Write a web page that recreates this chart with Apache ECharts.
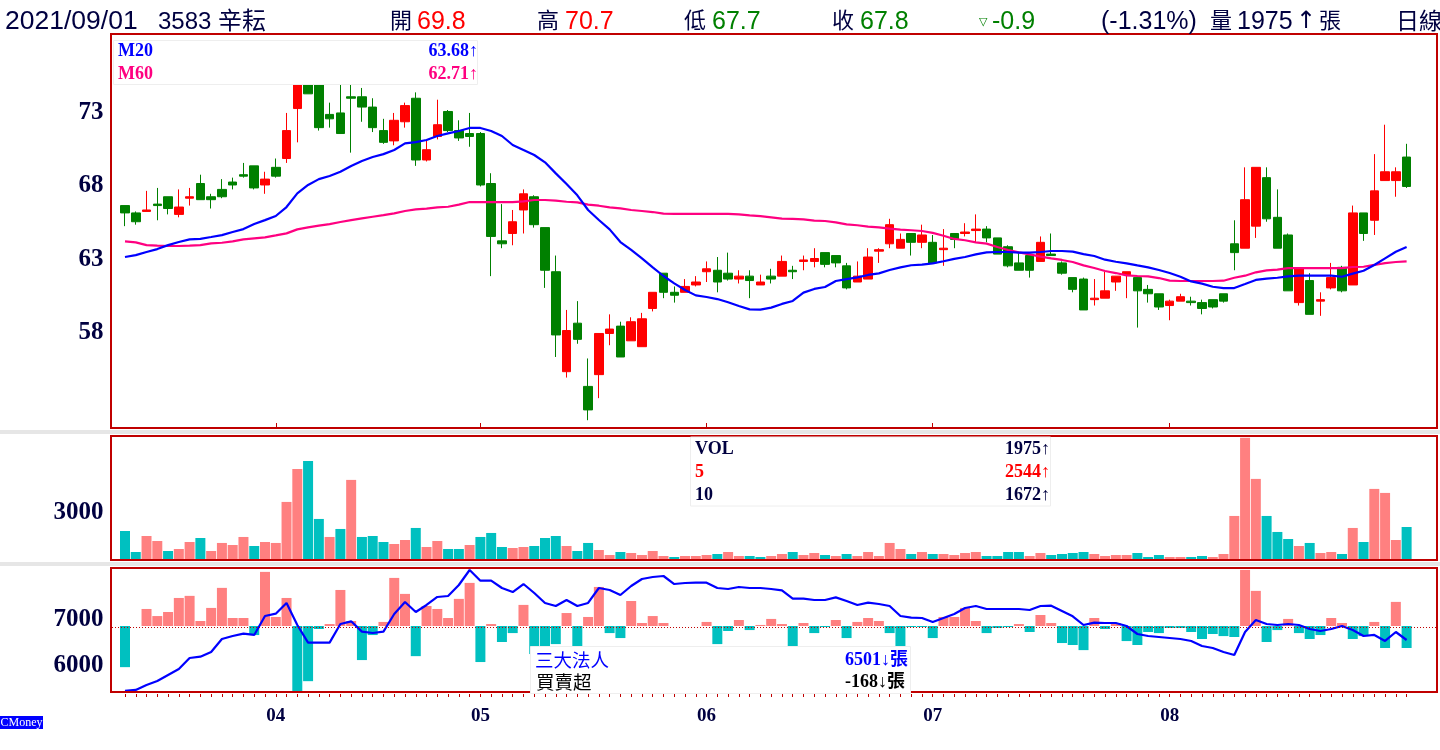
<!DOCTYPE html>
<html>
	<head>
		<meta charset="utf-8">
		<title>3583 辛耘</title>
		<script src="https://cdn.jsdelivr.net/npm/echarts@6/dist/echarts.min.js"></script>
		<style>
			html, body { margin: 0; padding: 0; background: #fff; }
		</style>
	</head>
	<body>
		<div id="main" style="width: 1440px; height: 750px;"></div>
		<script type="text/javascript">
			var opens = [66.5,66.0,66.1,66.6,67.1,65.9,67.0,68.0,67.1,67.6,68.1,68.6,69.2,67.9,69.1,69.7,73.1,75.6,75.2,72.7,
				72.8,73.9,73.9,73.2,71.6,70.9,72.2,73.8,69.6,71.2,72.9,71.6,71.4,71.4,68.0,64.1,64.6,66.2,67.1,65.0,
				62.0,55.2,58.5,54.2,55.0,57.8,58.3,57.3,56.9,59.5,61.9,60.6,60.6,61.1,62.0,62.1,61.9,61.5,61.7,61.1,
				61.7,61.7,62.1,62.7,62.7,63.3,63.1,62.4,61.3,61.5,63.4,63.9,63.6,64.6,64.0,64.0,63.5,64.6,64.6,64.8,
				64.9,64.3,63.7,62.6,63.1,62.7,63.2,62.6,61.6,61.5,60.1,60.2,61.3,61.8,61.6,60.8,60.5,59.7,60.0,60.0,
				59.9,60.1,60.5,63.9,63.6,65.1,68.4,65.7,64.5,59.9,61.4,60.0,60.9,62.3,61.1,66.0,65.5,68.2,68.2,69.8];
			var closes = [66.0,65.4,66.2,66.5,66.3,66.4,67.1,66.9,66.9,67.1,67.9,68.5,67.7,68.3,68.5,71.6,75.6,74.1,71.8,72.4,
				71.4,73.8,73.2,71.8,70.8,72.3,73.3,69.6,70.3,72.0,71.6,71.1,71.2,67.9,64.4,63.9,65.4,67.3,65.2,62.1,
				57.7,58.0,57.4,52.6,57.8,58.1,56.2,58.6,58.8,60.6,60.6,60.4,61.0,61.3,62.2,61.3,61.5,61.7,61.4,61.3,
				61.5,62.7,62.0,62.8,62.9,62.5,62.6,60.9,61.7,63.0,63.5,65.2,64.2,64.0,64.5,62.6,63.6,64.2,64.7,64.9,
				64.3,63.2,62.4,62.1,62.1,64.0,63.1,61.9,60.8,59.4,60.2,60.7,61.7,62.0,60.7,60.5,59.6,60.0,60.3,59.9,
				59.5,59.6,60.0,63.3,66.9,69.1,65.6,63.6,60.7,62.2,59.1,60.1,61.6,60.7,66.0,64.6,67.5,68.8,68.8,67.8];
			var lows = [65.1,65.2,66.1,65.5,65.9,65.7,66.5,66.9,66.3,67.0,67.6,68.4,67.6,67.3,68.4,69.4,70.8,74.1,71.6,71.8,
				71.4,70.1,72.2,71.5,70.7,70.6,71.8,69.2,69.5,71.0,71.5,70.9,70.5,67.8,61.7,63.6,63.8,64.6,65.0,60.9,
				56.2,54.8,57.1,51.9,53.4,57.0,56.2,57.3,56.9,59.3,60.2,59.9,60.6,61.0,61.3,60.6,61.4,61.2,60.2,61.1,
				61.2,61.7,61.5,62.1,62.3,62.3,62.3,60.8,61.3,61.5,62.6,63.6,63.6,63.1,63.6,62.6,62.4,63.6,64.4,64.0,
				64.0,63.2,62.3,62.1,61.6,62.7,63.1,61.8,60.6,59.4,59.7,60.2,60.7,60.2,58.2,59.9,59.4,58.7,60.0,59.7,
				59.1,59.5,59.9,62.1,63.6,64.3,65.4,63.6,60.7,59.7,59.1,59.0,60.8,60.6,61.1,64.1,64.5,68.2,67.1,67.7];
			var highs = [66.5,66.1,67.5,67.7,67.1,67.6,67.7,68.6,67.3,68.3,68.4,69.4,69.2,68.8,69.7,72.8,76.0,76.0,75.6,73.5,
				75.2,75.2,74.5,73.8,72.4,72.8,73.5,74.2,71.0,73.7,73.0,72.3,72.8,71.5,68.7,66.6,66.2,67.6,67.2,65.0,
				63.1,59.4,60.0,56.1,57.8,59.1,58.6,58.9,59.2,60.6,61.9,61.0,61.5,61.7,62.7,63.0,63.3,62.1,62.1,61.8,
				62.2,63.1,62.4,63.1,63.6,63.3,63.1,62.6,62.7,63.6,63.6,65.6,64.6,64.6,65.2,64.5,64.9,64.6,65.3,65.9,
				65.1,64.3,63.8,63.3,63.1,64.4,64.6,62.7,61.6,61.6,61.5,62.0,61.7,62.0,61.6,61.1,60.5,60.1,60.5,60.3,
				60.1,60.1,60.5,65.5,69.1,69.1,69.1,67.6,64.6,62.2,61.9,60.6,62.6,62.4,66.5,66.0,70.0,72.0,69.1,70.7];

			var m20 = [63.0,63.13,63.34,63.54,63.81,64.02,64.2,64.24,64.36,64.49,64.7,64.9,65.24,65.51,65.79,66.4,67.33,67.9,68.3,68.51,
				68.8,69.19,69.53,69.8,70.0,70.28,70.73,70.82,70.96,71.23,71.41,71.57,71.78,71.78,71.57,71.23,70.62,70.28,69.94,69.44,
				68.69,67.97,67.2,66.2,65.52,64.88,64.02,63.48,62.91,62.3,61.71,61.21,60.76,60.39,60.28,60.14,59.92,59.67,59.44,59.42,
				59.56,59.81,60.01,60.58,60.83,60.96,61.37,61.5,61.62,61.78,61.89,62.12,62.3,62.44,62.48,62.57,62.71,62.87,63.0,63.18,
				63.32,63.34,63.34,63.3,63.3,63.34,63.41,63.41,63.37,63.2,63.07,62.82,62.68,62.57,62.43,62.3,62.12,61.91,61.66,61.34,
				61.19,60.98,60.89,60.89,61.16,61.44,61.53,61.59,61.68,61.73,61.73,61.73,61.73,61.66,61.87,62.07,62.46,62.91,63.36,63.68];
			var m60 = [64.06,64.0,63.81,63.77,63.75,63.75,63.77,63.81,63.93,63.97,64.06,64.2,64.27,64.34,64.47,64.61,64.88,65.02,65.13,65.24,
				65.38,65.51,65.63,65.74,65.85,65.97,66.13,66.24,66.29,66.38,66.42,66.56,66.74,66.74,66.74,66.74,66.74,66.79,66.88,66.88,
				66.83,66.76,66.72,66.56,66.49,66.38,66.31,66.2,66.13,66.06,65.95,65.93,65.93,65.93,65.93,65.93,65.93,65.9,65.83,65.78,
				65.7,65.61,65.59,65.56,65.47,65.45,65.36,65.22,65.16,65.07,65.02,64.93,64.86,64.82,64.77,64.64,64.45,64.23,64.14,64.0,
				63.91,63.68,63.48,63.32,63.18,63.03,62.91,62.8,62.66,62.43,62.25,62.05,61.91,61.75,61.71,61.68,61.57,61.39,61.37,61.37,
				61.37,61.37,61.39,61.59,61.73,61.96,62.09,62.14,62.25,62.25,62.25,62.25,62.25,62.25,62.32,62.34,62.46,62.59,62.66,62.71];

			var volumes = [1730,433,1420,1112,494,618,1050,1298,494,990,865,1360,803,1050,990,3523,5562,6056,2472,1360,
				1854,4882,1360,1420,1050,927,1174,1916,742,1112,618,618,865,1360,1607,742,680,742,803,1298,
				1420,803,494,990,556,247,433,371,247,494,185,124,185,185,247,309,433,185,185,124,
				185,309,433,247,371,247,185,309,185,433,185,990,618,309,433,309,309,247,371,433,
				185,185,433,433,185,371,247,309,371,433,309,185,247,247,371,124,247,124,124,124,
				185,124,309,2657,7478,4944,2657,1669,1236,803,990,371,433,309,1916,1050,4326,4079,1174,1975];
			// 1 = 紅, 0 = 綠
			var volumeUp = [0,0,1,1,0,1,1,0,1,1,1,1,0,1,1,1,1,0,0,1,
				0,1,0,0,0,1,1,0,1,1,0,0,1,0,0,0,1,1,0,0,
				0,1,0,0,1,1,0,1,1,1,1,0,1,1,1,0,1,1,0,0,
				1,1,0,1,1,0,1,0,1,1,1,1,1,0,1,0,1,1,1,1,
				0,0,0,0,1,1,0,0,0,0,1,1,1,1,0,0,0,1,1,0,
				0,1,1,1,1,1,0,0,0,1,0,1,1,0,1,0,1,1,1,0];

			var netBuy = [-314,0,130,76,107,214,230,38,138,291,61,61,-69,413,69,214,-510,-421,-23,15,
				275,38,-260,-69,31,367,245,-230,153,130,61,207,329,-275,15,-122,-54,161,-214,-170,
				-138,99,-160,69,298,-54,-92,191,23,76,23,0,0,0,31,-138,-38,46,-31,8,
				54,15,-170,23,-54,-8,46,-92,31,61,38,-54,-160,-8,-8,-92,69,69,138,38,
				-54,-15,-8,15,-46,84,23,-130,-145,-184,61,-23,23,-115,-145,-46,-54,-15,-15,-46,
				-99,-61,-77,-84,428,268,-122,-31,54,-54,-99,-69,61,23,-99,-77,31,-168,184,-168];
			var holdings = [5381,5403,5512,5600,5732,5864,6106,6135,6238,6523,6589,6641,6612,7029,7080,7315,6831,6443,6443,6443,
				6853,6912,6685,6655,6685,7073,7337,7117,7271,7447,7468,7710,8040,7805,7805,7644,7556,7732,7534,7315,
				7249,7381,7249,7315,7644,7600,7490,7688,7842,7886,7908,7732,7754,7762,7762,7644,7622,7666,7644,7644,
				7622,7593,7410,7410,7381,7381,7439,7359,7271,7322,7293,7249,7029,6992,6985,6897,6985,7073,7205,7249,
				7183,7183,7183,7183,7161,7249,7256,7139,7022,6831,6883,6875,6875,6809,6633,6589,6567,6545,6523,6480,
				6370,6326,6238,6172,6677,6941,6853,6831,6853,6831,6743,6699,6743,6809,6721,6589,6612,6480,6677,6501];

			var priceTicks = [58, 63, 68, 73];
			var volumeTicks = [3000];
			var holdingTicks = [6000, 7000];
			var monthIndex = [14, 33, 54, 75, 97];
			var monthNames = ['04', '05', '06', '07', '08'];

			var categories = opens.map(function(v, i) { return String(i); });
			var candles = opens.map(function(v, i) { return [opens[i], closes[i], lows[i], highs[i]]; });

			var NAVY = '#000040', RED = '#ff0000', GREEN = '#008000', FRAME = '#c00000';
			var TEAL = '#00c0c0', PINK = '#ff8080', BLUE = '#0000ff', MAGENTA = '#ff0080';
			var HEAD = '25px "Liberation Sans", "Noto Sans CJK TC"';
			var CJK = '22px "Noto Sans CJK TC"';
			var SMALL = 'bold 18px "Liberation Serif"';
			var ARROW = '18px "Liberation Serif", "DejaVu Serif"';
			var LOWER = 'bold 18px "Liberation Serif", "Noto Sans CJK TC"';

			function text(x, y, str, color, font, align) {
				return {
					type: 'text', z: 120, silent: true,
					style: { x: x, y: y, text: str, fill: color, font: font, textAlign: align || 'left', textVerticalAlign: 'middle' }
				};
			}
			function rect(x, y, w, h, fill, stroke, z) {
				return {
					type: 'rect', z: z, silent: true,
					shape: { x: x, y: y, width: w, height: h },
					style: { fill: fill, stroke: stroke, lineWidth: stroke === FRAME ? 2 : 1 }
				};
			}

			var elements = [
				rect(0, 430, 1440, 4, '#e6e6e6', null, 1),
				rect(0, 562, 1440, 4, '#e6e6e6', null, 1),
				rect(111, 34, 1326, 394, 'transparent', FRAME, 50),
				rect(111, 436, 1326, 124, 'transparent', FRAME, 50),
				rect(111, 568, 1326, 124, 'transparent', FRAME, 50),
				{
					type: 'line', z: 40, silent: true,
					shape: { x1: 112, y1: 627.5, x2: 1436, y2: 627.5 },
					style: { stroke: FRAME, lineWidth: 1, lineDash: [1, 2] }
				},

				// 標題列
				text(5, 22, '2021/09/01', NAVY, '26.5px "Liberation Sans"'),
				text(158, 22, '3583 辛耘', NAVY, '24px "Liberation Sans", "Noto Sans CJK TC"'),
				text(390, 20, '開', NAVY, CJK),
				text(417, 22, '69.8', RED, HEAD),
				text(537, 20, '高', NAVY, CJK),
				text(565, 22, '70.7', RED, HEAD),
				text(684, 20, '低', NAVY, CJK),
				text(712, 22, '67.7', GREEN, HEAD),
				text(832, 20, '收', NAVY, CJK),
				text(860, 22, '67.8', GREEN, HEAD),
				text(979, 22, '▽', GREEN, '11px "DejaVu Sans"'),
				text(992, 22, '-0.9', GREEN, HEAD),
				text(1101, 22, '(-1.31%)', NAVY, HEAD),
				text(1210, 20, '量', NAVY, CJK),
				text(1237, 22, '1975', NAVY, HEAD),
				text(1296, 22, '↑', NAVY, '24px "DejaVu Sans"'),
				text(1319, 20, '張', NAVY, CJK),
				text(1396, 20, '日線', NAVY, '23px "Noto Sans CJK TC"'),

				// 均線
				rect(113.5, 40.5, 364, 44, '#fff', '#eeeeee', 100),
				text(118, 51, 'M20', BLUE, SMALL),
				text(469, 51, '63.68', BLUE, SMALL, 'right'),
				text(469, 51, '↑', BLUE, ARROW),
				text(118, 74, 'M60', MAGENTA, SMALL),
				text(469, 74, '62.71', MAGENTA, SMALL, 'right'),
				text(469, 74, '↑', MAGENTA, ARROW),

				// 成交量
				rect(690.5, 437, 360, 69, '#fff', '#eeeeee', 100),
				text(695, 449, 'VOL', NAVY, SMALL),
				text(1041, 449, '1975', NAVY, SMALL, 'right'),
				text(1041, 449, '↑', NAVY, ARROW),
				text(695, 472, '5', RED, SMALL),
				text(1041, 472, '2544', RED, SMALL, 'right'),
				text(1041, 472, '↑', RED, ARROW),
				text(695, 495, '10', NAVY, SMALL),
				text(1041, 495, '1672', NAVY, SMALL, 'right'),
				text(1041, 495, '↑', NAVY, ARROW),

				// 三大法人
				rect(530.5, 646.5, 380, 47, '#fff', '#eeeeee', 100),
				text(535, 660, '三大法人', BLUE, '18.5px "Noto Sans CJK TC"'),
				text(536, 682, '買賣超', '#000000', '18.5px "Noto Sans CJK TC"'),
				text(908, 660, '6501↓張', BLUE, LOWER, 'right'),
				text(905, 682, '-168↓張', '#000000', LOWER, 'right'),

				rect(0, 716, 43, 13, '#0000ff', null, 100),
				text(0.5, 723, 'CMoney', '#ffffff', '12px "Liberation Serif"')
			];

			function xAxisFor(gridIndex, extra) {
				return Object.assign({
					type: 'category',
					gridIndex: gridIndex,
					data: categories,
					boundaryGap: true,
					axisLine: { show: false, onZero: false },
					axisLabel: { show: false },
					splitLine: { show: false }
				}, extra);
			}

			var yLabel = {
				fontFamily: 'Liberation Serif', fontWeight: 'bold', fontSize: 25, color: NAVY, margin: 16,
				verticalAlign: 'top',
				lineHeight: 5,
				formatter: function(v) { return String(v); }
			};

			function yAxisFor(gridIndex, min, max, ticks) {
				return {
					type: 'value',
					gridIndex: gridIndex,
					min: min,
					max: max,
					axisLine: { show: false },
					axisTick: { show: false },
					splitLine: { show: false },
					axisLabel: Object.assign({ customValues: ticks }, yLabel)
				};
			}

			var option = {
				animation: false,
				backgroundColor: '#fff',
				graphic: { elements: elements },
				grid: [
					{ left: 119.6, width: 1292.4, top: 34, height: 394 },
					{ left: 119.6, width: 1292.4, top: 436, height: 123 },
					{ left: 119.6, width: 1292.4, top: 569, height: 122 }
				],
				xAxis: [
					xAxisFor(0, {
						axisTick: {
							show: true, inside: true, length: 5, alignWithLabel: true,
							interval: function(i) { return monthIndex.indexOf(i) >= 0; },
							lineStyle: { color: FRAME }
						}
					}),
					xAxisFor(1, { axisTick: { show: false } }),
					xAxisFor(2, {
						offset: 3,
						axisTick: {
							show: true, length: 3, alignWithLabel: true, interval: 0,
							lineStyle: { color: FRAME }
						},
						axisLabel: {
							show: true,
							interval: function(i) { return monthIndex.indexOf(i) >= 0; },
							formatter: function(v) {
								var k = monthIndex.indexOf(Number(v));
								return k >= 0 ? monthNames[k] : '';
							},
							fontFamily: 'Liberation Serif', fontWeight: 'bold', fontSize: 19, color: NAVY, margin: 13
						}
					})
				],
				yAxis: [
					yAxisFor(0, 51.37, 78.17, priceTicks),
					yAxisFor(1, 0, 7592, volumeTicks),
					yAxisFor(2, 5380, 8062, holdingTicks),
					{
						type: 'value', gridIndex: 2, min: -496, max: 435,
						axisLine: { show: false }, axisTick: { show: false },
						axisLabel: { show: false }, splitLine: { show: false }
					}
				],
				series: [
					{
						name: 'K',
						type: 'candlestick',
						xAxisIndex: 0,
						yAxisIndex: 0,
						barWidth: 9,
						data: candles,
						itemStyle: { color: RED, color0: GREEN, borderColor: RED, borderColor0: GREEN, borderWidth: 1 }
					},
					{
						name: 'M20', type: 'line', xAxisIndex: 0, yAxisIndex: 0, data: m20, symbol: 'none', z: 5,
						lineStyle: { color: BLUE, width: 2.2 }
					},
					{
						name: 'M60', type: 'line', xAxisIndex: 0, yAxisIndex: 0, data: m60, symbol: 'none', z: 4,
						lineStyle: { color: MAGENTA, width: 2.2 }
					},
					{
						name: 'VOL', type: 'bar', xAxisIndex: 1, yAxisIndex: 1, data: volumes, barWidth: 10,
						itemStyle: { color: function(p) { return volumeUp[p.dataIndex] ? PINK : TEAL; } }
					},
					{
						name: '買賣超', type: 'bar', xAxisIndex: 2, yAxisIndex: 3, data: netBuy, barWidth: 10,
						itemStyle: { color: function(p) { return p.value >= 0 ? PINK : TEAL; } }
					},
					{
						name: '三大法人', type: 'line', xAxisIndex: 2, yAxisIndex: 2, data: holdings, symbol: 'none', z: 5,
						lineStyle: { color: BLUE, width: 2.2 }
					}
				]
			};

			var myChart = echarts.init(document.getElementById('main'));
			myChart.setOption(option);
		</script>
	</body>
</html>
